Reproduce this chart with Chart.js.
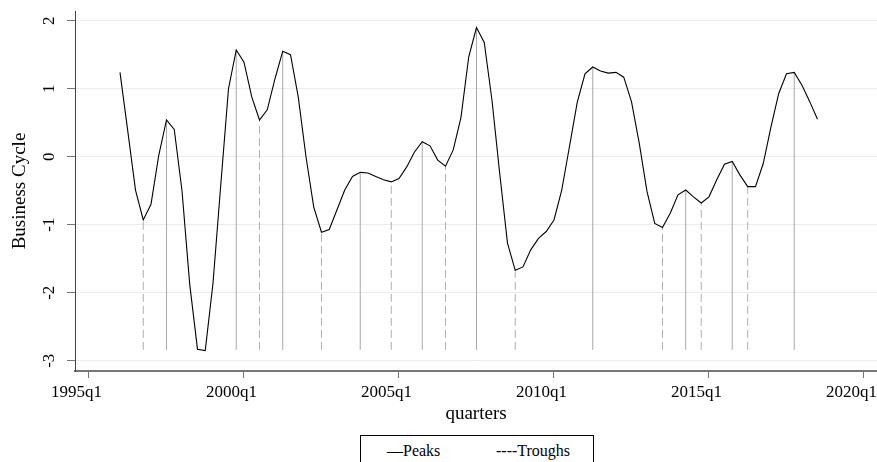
<!DOCTYPE html>
<html>
<head>
<meta charset="utf-8">
<script src="https://cdn.jsdelivr.net/npm/chart.js@4.4.1/dist/chart.umd.min.js"></script>
<style>
  html, body { margin: 0; padding: 0; background: #fff; overflow: hidden; }
  #wrap { position: relative; width: 877px; height: 462px; }
  #legend {
    position: absolute; left: 360px; top: 435px; width: 232px; height: 40px;
    border: 1px solid #000; background: #fff;
    font-family: "Liberation Serif", "Times New Roman", serif; font-size: 16px; color: #000;
  }
  #legend span { position: absolute; top: 7px; line-height: 16px; white-space: nowrap; }
</style>
</head>
<body>
<div id="wrap">
  <canvas id="myChart" width="877" height="462"></canvas>
  <div id="legend"><span style="left:26px">—Peaks</span><span style="left:135px">----Troughs</span></div>
</div>
<script>
// business cycle, one value per quarter starting 1996q1
var firstQuarter = '1996q1';
var cycle = [
   1.24,  0.38, -0.49, -0.93, -0.70,  0.02,  0.54,  0.40,
  -0.50, -1.88, -2.83, -2.85, -1.86, -0.42,  1.00,  1.57,
   1.39,  0.88,  0.54,  0.69,  1.15,  1.55,  1.50,  0.88,
   0.00, -0.74, -1.11, -1.07, -0.78, -0.49, -0.29, -0.23,
  -0.24, -0.29, -0.34, -0.37, -0.32, -0.15,  0.07,  0.22,
   0.16, -0.05, -0.14,  0.10,  0.58,  1.47,  1.90,  1.68,
   0.83, -0.25, -1.27, -1.67, -1.62, -1.37, -1.20, -1.10,
  -0.93, -0.49,  0.15,  0.80,  1.22,  1.32,  1.26,  1.23,
   1.24,  1.17,  0.81,  0.20, -0.51, -0.98, -1.04, -0.83,
  -0.56, -0.49, -0.59, -0.68, -0.59, -0.34, -0.11, -0.07,
  -0.27, -0.44, -0.44, -0.10,  0.44,  0.93,  1.22,  1.24,
   1.05,  0.81,  0.55
];
var peaks = ['1997q3', '1999q4', '2001q2', '2003q4', '2005q4', '2007q3', '2011q2', '2014q2', '2015q4', '2017q4'];
var troughs = ['1996q4', '2000q3', '2002q3', '2004q4', '2006q3', '2008q4', '2013q3', '2014q4', '2016q2'];
var xTickLabels = ['1995q1', '2000q1', '2005q1', '2010q1', '2015q1', '2020q1'];
var yTicks = [-3, -2, -1, 0, 1, 2];
var spikeFloor = -2.84;

// quarters counted from 1995q1
function qIndex(s) {
  var p = s.split('q');
  return (parseInt(p[0]) - 1995) * 4 + parseInt(p[1]) - 1;
}
var start = qIndex(firstQuarter);

var cyclePts = cycle.map(function (v, i) { return { x: start + i, y: v }; });

function spikes(list) {
  var pts = [];
  list.forEach(function (s) {
    var q = qIndex(s);
    pts.push({ x: q, y: spikeFloor }, { x: q, y: cycle[q - start] }, { x: q, y: null });
  });
  return pts;
}

var serif = '"Liberation Serif", "Times New Roman", serif';
Chart.defaults.font.family = serif;
Chart.defaults.color = '#000';

// stata style: y tick labels stand upright
var rotatedYLabels = {
  id: 'rotatedYLabels',
  afterDraw: function (chart) {
    var y = chart.scales.y, c = chart.ctx;
    c.save();
    c.font = '17px ' + serif;
    c.fillStyle = '#000';
    c.textAlign = 'center';
    c.textBaseline = 'middle';
    yTicks.forEach(function (v) {
      c.save();
      c.translate(49.5, y.getPixelForValue(v));
      c.rotate(-Math.PI / 2);
      c.fillText(String(v), 0, 0);
      c.restore();
    });
    c.restore();
  }
};

var ctx = document.getElementById('myChart').getContext('2d');
var chart = new Chart(ctx, {
  type: 'line',
  data: {
    datasets: [
      {
        label: 'Business Cycle',
        data: cyclePts,
        borderColor: '#000',
        borderWidth: 1.1,
        pointRadius: 0,
        tension: 0,
        order: 0
      },
      {
        label: 'Peaks',
        data: spikes(peaks),
        borderColor: '#a8a8a8',
        borderWidth: 1,
        pointRadius: 0,
        spanGaps: false,
        order: 1
      },
      {
        label: 'Troughs',
        data: spikes(troughs),
        borderColor: '#b0b0b0',
        borderWidth: 1,
        borderDash: [8, 4],
        pointRadius: 0,
        spanGaps: false,
        order: 2
      }
    ]
  },
  options: {
    responsive: false,
    animation: false,
    layout: { padding: { top: 11, left: 0, right: 0, bottom: 0 } },
    plugins: { legend: { display: false }, tooltip: { enabled: false } },
    scales: {
      x: {
        type: 'linear',
        min: -1.806,
        max: 101.68,
        afterBuildTicks: function (s) {
          s.ticks = xTickLabels.map(function (t) { return { value: qIndex(t) }; });
        },
        afterFit: function (s) { s.height = 91; s.paddingLeft = 0; s.paddingRight = 0; },
        ticks: {
          autoSkip: false,
          maxRotation: 0,
          minRotation: 0,
          padding: 4,
          labelOffset: -12.5,
          font: { size: 17 },
          color: '#000',
          callback: function (v, i) { return xTickLabels[i]; }
        },
        grid: { drawOnChartArea: false, drawTicks: true, tickLength: 7, tickColor: '#777' },
        border: { color: '#777', width: 2 },
        title: { display: true, text: 'quarters', font: { size: 19 }, color: '#000', padding: { top: 0, bottom: 37 } }
      },
      y: {
        min: -3.151,
        max: 2.143,
        afterBuildTicks: function (s) {
          s.ticks = yTicks.map(function (v) { return { value: v }; });
        },
        afterFit: function (s) { s.width = 75; s.paddingTop = 0; s.paddingBottom = 0; },
        ticks: { color: 'rgba(0,0,0,0)', font: { size: 17 } },
        grid: { color: '#ececec', lineWidth: 1, tickLength: 8, tickColor: '#777' },
        border: { color: '#444', width: 1 },
        title: { display: true, text: 'Business Cycle', font: { size: 19 }, color: '#000', padding: { top: 9, bottom: 0 } }
      }
    }
  },
  plugins: [rotatedYLabels]
});
</script>
</body>
</html>
